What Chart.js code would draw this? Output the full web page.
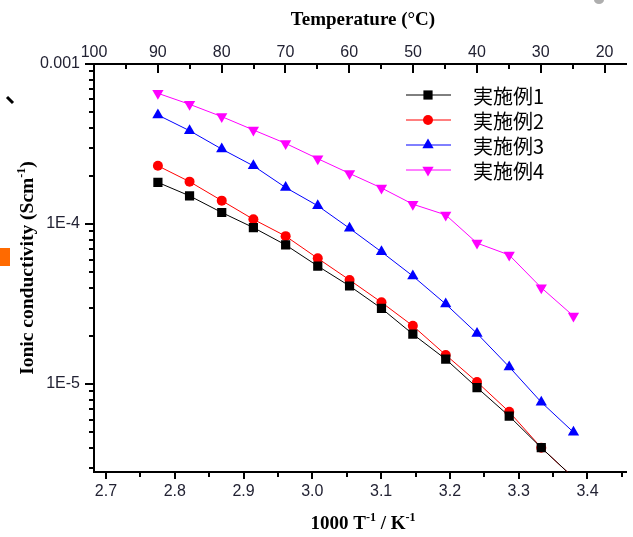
<!DOCTYPE html>
<html>
<head>
<meta charset="utf-8">
<script src="https://cdn.jsdelivr.net/npm/chart.js@4.4.0/dist/chart.umd.min.js"></script>
<style>
  html, body { margin: 0; padding: 0; background: #fff; overflow: hidden; }
</style>
</head>
<body>
<canvas id="chart" width="633" height="537"></canvas>
<script>
// 1000/T of each measurement (bottom axis)
const invT = [2.7755, 2.8215, 2.8683, 2.9143, 2.9612, 3.0079, 3.0541, 3.1005, 3.1461, 3.1939, 3.2394, 3.2862, 3.3328, 3.3796];

// ionic conductivity, S/cm
const ex1 = [1.82e-4, 1.50e-4, 1.18e-4, 9.5e-5, 7.4e-5, 5.46e-5, 4.10e-5, 2.97e-5, 2.05e-5, 1.43e-5, 9.5e-6, 6.3e-6, 4.0e-6, 2.6e-6];
const ex2 = [2.31e-4, 1.84e-4, 1.40e-4, 1.07e-4, 8.4e-5, 6.1e-5, 4.47e-5, 3.24e-5, 2.31e-5, 1.52e-5, 1.03e-5, 6.7e-6, 4.0e-6, 2.6e-6];
const ex3 = [4.80e-4, 3.83e-4, 2.94e-4, 2.31e-4, 1.69e-4, 1.30e-4, 9.4e-5, 6.7e-5, 4.73e-5, 3.16e-5, 2.07e-5, 1.28e-5, 7.7e-6, 5.0e-6];
const ex4 = [6.56e-4, 5.60e-4, 4.69e-4, 3.87e-4, 3.19e-4, 2.56e-4, 2.07e-4, 1.68e-4, 1.33e-4, 1.14e-4, 7.6e-5, 6.4e-5, 4.0e-5, 2.66e-5];

const seriesNames = ['実施例1', '実施例2', '実施例3', '実施例4'];
const seriesColors = ['#000000', '#ff0000', '#0000ff', '#ff00ff'];

const bottomTicks = [2.7, 2.8, 2.9, 3.0, 3.1, 3.2, 3.3, 3.4];
const topTicks = [100, 90, 80, 70, 60, 50, 40, 30, 20];
const leftTicks = [1e-3, 1e-4, 1e-5];
const leftLabels = ['0.001', '1E-4', '1E-5'];

const markers = [
    { style: 'rect', radius: 6.5, rotation: 0 },
    { style: 'circle', radius: 5, rotation: 0 },
    { style: 'triangle', radius: 6.5, rotation: 0 },
    { style: 'triangle', radius: 6.5, rotation: 180 }
];

const tickFont = { family: '"Liberation Sans", Arial, sans-serif', size: 16 };
const tickColor = '#222233';

function makeSet(i, values) {
    return {
        label: seriesNames[i],
        data: values.map((v, k) => ({ x: invT[k], y: v })),
        borderColor: seriesColors[i],
        backgroundColor: seriesColors[i],
        borderWidth: 1,
        pointStyle: markers[i].style,
        pointRadius: markers[i].radius,
        pointRotation: markers[i].rotation,
        pointBorderWidth: 0,
        tension: 0
    };
}

// draws text with superscript parts, centred on (cx, cy)
function drawRich(ctx, parts, cx, cy, size) {
    const big = 'bold ' + size + 'px "Liberation Serif", "Times New Roman", serif';
    const small = 'bold ' + Math.round(size * 0.62) + 'px "Liberation Serif", "Times New Roman", serif';
    let total = 0;
    parts.forEach(p => {
        ctx.font = p.sup ? small : big;
        total += ctx.measureText(p.t).width;
    });
    let x = cx - total / 2;
    ctx.textAlign = 'left';
    ctx.textBaseline = 'alphabetic';
    ctx.fillStyle = '#000';
    parts.forEach(p => {
        ctx.font = p.sup ? small : big;
        const base = cy + size * 0.35;
        ctx.fillText(p.t, x, p.sup ? base - size * 0.42 : base);
        x += ctx.measureText(p.t).width;
    });
}

const decorPlugin = {
    id: 'decor',
    afterDraw(chart) {
        const ctx = chart.ctx;
        const area = chart.chartArea;
        const xs = chart.scales.x;
        const xt = chart.scales.xTop;
        const ys = chart.scales.y;

        ctx.save();
        ctx.strokeStyle = '#000';
        ctx.lineWidth = 2;
        ctx.beginPath();
        // left axis: majors and minors, outward
        for (let e = -6; e <= -3; e++) {
            for (let m = 1; m <= 9; m++) {
                const v = m * Math.pow(10, e);
                if (v < ys.min || v > ys.max * 1.0001) continue;
                const py = Math.round(ys.getPixelForValue(v));
                const len = m === 1 ? 9 : 5;
                ctx.moveTo(area.left - len, py);
                ctx.lineTo(area.left, py);
            }
        }
        // bottom axis, outward
        for (let k = 0; k <= 15; k++) {
            const v = 2.7 + k * 0.05;
            if (v > xs.max) continue;
            const px = Math.round(xs.getPixelForValue(v));
            const len = k % 2 === 0 ? 7 : 5;
            ctx.moveTo(px, area.bottom);
            ctx.lineTo(px, area.bottom + len);
        }
        // top axis, inward
        for (let t = 100; t >= 20; t -= 5) {
            if (t < xt.min) continue;
            const px = Math.round(xt.getPixelForValue(t));
            const len = t % 10 === 0 ? 9 : 5;
            ctx.moveTo(px, area.top);
            ctx.lineTo(px, area.top + len);
        }
        ctx.stroke();

        // axis titles
        drawRich(ctx, [{ t: 'Temperature (°C)' }], 363, 18, 19);
        drawRich(ctx, [{ t: '1000 T' }, { t: '-1', sup: true }, { t: ' / K' }, { t: '-1', sup: true }], 363, 522, 19);
        ctx.save();
        ctx.translate(26, 268);
        ctx.rotate(-Math.PI / 2);
        drawRich(ctx, [{ t: 'Ionic conductivity (Scm' }, { t: '-1', sup: true }, { t: ')' }], 0, 0, 19.5);
        ctx.restore();

        // legend with line + marker samples
        chart.data.datasets.forEach((ds, i) => {
            const ly = 95 + 25 * i;
            ctx.strokeStyle = ds.borderColor;
            ctx.lineWidth = 1;
            ctx.beginPath();
            ctx.moveTo(406, ly);
            ctx.lineTo(451, ly);
            ctx.stroke();
            ctx.fillStyle = ds.backgroundColor;
            Chart.helpers.drawPoint(ctx, {
                pointStyle: markers[i].style,
                rotation: markers[i].rotation,
                radius: markers[i].radius,
                borderWidth: 0
            }, 428, ly);
            ctx.fillStyle = '#000';
            ctx.font = '20px "Noto Sans CJK JP", sans-serif';
            ctx.textAlign = 'left';
            ctx.textBaseline = 'middle';
            ctx.fillText(ds.label, 473, ly + 1);
        });

        // stray marks in the scanned figure
        ctx.fillStyle = '#ff6a00';
        ctx.fillRect(0, 248, 10, 18);
        ctx.strokeStyle = '#000';
        ctx.lineWidth = 3;
        ctx.beginPath();
        ctx.moveTo(7, 97);
        ctx.lineTo(13, 103);
        ctx.stroke();
        ctx.fillStyle = 'rgba(120,120,120,0.6)';
        ctx.beginPath();
        ctx.ellipse(599, 0, 5, 4, 0, 0, Math.PI * 2);
        ctx.fill();
        ctx.restore();
    }
};

const ctx = document.getElementById('chart').getContext('2d');
const chart = new Chart(ctx, {
    type: 'line',
    data: {
        datasets: [makeSet(0, ex1), makeSet(1, ex2), makeSet(2, ex3), makeSet(3, ex4)]
    },
    options: {
        responsive: false,
        animation: false,
        layout: { padding: 0 },
        plugins: {
            legend: { display: false },
            tooltip: { enabled: false }
        },
        scales: {
            x: {
                type: 'linear',
                position: 'bottom',
                min: 2.6826,
                max: 3.4567,
                grid: { display: false, drawTicks: false },
                border: { display: true, color: '#000', width: 2 },
                afterBuildTicks: s => { s.ticks = bottomTicks.map(v => ({ value: v })); },
                afterFit: s => { s.height = 65; },
                ticks: {
                    autoSkip: false,
                    maxRotation: 0,
                    padding: 10,
                    color: tickColor,
                    font: tickFont,
                    callback: v => v.toFixed(1)
                }
            },
            xTop: {
                type: 'linear',
                position: 'top',
                reverse: true,
                min: 16.56,
                max: 100,
                grid: { display: false, drawTicks: false },
                border: { display: true, color: '#000', width: 2 },
                afterBuildTicks: s => { s.ticks = topTicks.map(v => ({ value: v })); },
                afterFit: s => { s.height = 64; },
                ticks: {
                    autoSkip: false,
                    maxRotation: 0,
                    padding: 2,
                    color: tickColor,
                    font: tickFont,
                    callback: v => String(v)
                }
            },
            y: {
                type: 'logarithmic',
                position: 'left',
                min: 2.82e-6,
                max: 1e-3,
                grid: { display: false, drawTicks: false },
                border: { display: true, color: '#000', width: 2 },
                afterBuildTicks: s => { s.ticks = leftTicks.map(v => ({ value: v })); },
                afterFit: s => { s.width = 94; },
                ticks: {
                    autoSkip: false,
                    padding: 14,
                    color: tickColor,
                    font: tickFont,
                    callback: v => {
                        const i = leftTicks.findIndex(t => Math.abs(t - v) / t < 1e-6);
                        return i >= 0 ? leftLabels[i] : '';
                    }
                }
            }
        }
    },
    plugins: [decorPlugin]
});
</script>
</body>
</html>
